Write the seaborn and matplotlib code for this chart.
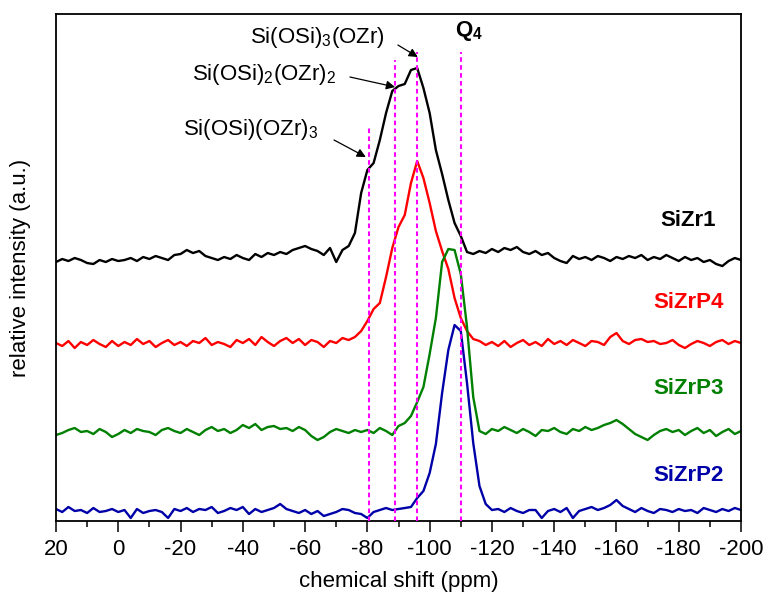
import matplotlib
matplotlib.use("Agg")
import matplotlib.pyplot as plt
from matplotlib.ticker import MultipleLocator, NullLocator
import seaborn as sns
import numpy as np
import pandas as pd

# chemical shift grid, 20 ... -200 ppm in 2 ppm steps
ppm = np.arange(20, -201, -2)

# intensities, relative to each trace's own baseline
sizr1 = [-4, -1, -3, 0, -2, -5, -6, -2, -4, -1,
         -3, -2, 0, -3, 1, -1, 2, 0, -2, 3,
         4, 8, 5, 7, 2, 0, -2, 1, -1, 3,
         0, -2, 4, 1, 5, 3, 6, 4, 8, 10,
         12, 9, 7, 3, 10, -4, 8, 12, 25, 65,
         88, 95, 118, 145, 167, 172, 174, 188, 190, 170,
         145, 108, 84, 58, 35, 22, 6, 4, 7, 5,
         9, 6, 10, 8, 11, 6, 4, 7, 3, 5,
         0, -3, -5, 2, -1, 1, -2, 2, 0, -3,
         1, -1, 2, 0, 3, -2, 1, -1, 3, 0,
         -3, 1, -2, 0, -4, -2, -6, -8, -3, 0, -2]
sizrp4 = [0, -3, 2, -5, 1, -2, 3, -1, -4, 2,
          -3, 1, -2, 4, -1, 2, -4, 0, 3, -2,
          1, -3, 2, 0, 5, -2, 1, -1, -4, 3,
          0, 4, -2, 6, 1, -3, 2, 5, 0, 4,
          -2, 3, 1, -4, 2, 0, 5, 3, 6, 12,
          22, 34, 40, 66, 95, 116, 128, 160, 182, 165,
          140, 112, 92, 74, 45, 25, 12, 4, 2, -2,
          1, -3, 2, -4, 0, 3, -2, 1, -3, 4,
          -1, 2, -2, 3, 0, -3, 2, 1, -2, 6,
          10, 2, -1, 3, 4, 1, 2, -1, 0, 3,
          -2, -5, -1, 2, 0, -3, 1, 3, -1, 2, 0]
sizrp3 = [-3, -1, 2, 4, 0, 1, -2, 3, 0, -5,
          -2, 2, -1, 3, 1, 0, -3, 2, 4, 1,
          -1, 3, 0, -3, 2, 5, 1, 3, -1, 2,
          7, 4, 8, 2, 5, 6, 3, 4, 1, 5,
          2, -4, -8, -5, 0, 3, 1, -1, 2, 0,
          2, -1, 4, 1, -3, 6, 9, 16, 30, 45,
          78, 114, 170, 183, 182, 158, 105, 35, 1, -2,
          3, 1, 5, 2, -1, 3, 0, -4, 2, 1,
          4, 0, -2, 3, 1, 5, 2, 4, 7, 9,
          12, 8, 3, -2, -5, -8, -3, 1, 3, 0,
          2, -3, 1, 4, -1, 2, -4, 0, 3, -2, 1]
sizrp2 = [2, -1, 4, 0, 1, -2, 3, -1, 0, 2,
          -1, 1, -7, 2, -2, 0, 1, -1, -7, 2,
          0, 3, -1, 2, 1, 4, -2, 0, 3, 1,
          4, -3, 2, -1, 1, 3, 7, 2, 0, -2,
          1, -3, 0, -5, -3, -1, 2, 1, -2, -3,
          -7, -1, 1, 3, 1, 2, 3, 4, 13, 20,
          38, 67, 118, 161, 186, 180, 128, 68, 25, 7,
          1, 2, -1, 3, 0, -2, 1, 1, -7, 0,
          2, -1, 3, -7, 0, 2, 4, 1, 3, 6,
          11, 5, 2, -1, 3, 0, -2, 2, 1, -1,
          2, 0, 1, -2, 3, 1, -1, 2, 0, 3, 1]

samples = ["SiZr1", "SiZrP4", "SiZrP3", "SiZrP2"]
offsets = [263, 178, 89, 10]
colors = ["#000000", "#ff0000", "#008000", "#0000a8"]

# Q-unit positions (ppm) and how high their dotted markers reach
q_pos = [-80.5, -89, -96, -110]
q_top = [394, 461, 469, 469]

plt.rcParams["font.family"] = "Liberation Sans"
plt.rcParams["axes.unicode_minus"] = False
plt.rcParams["mathtext.fontset"] = "custom"
plt.rcParams["mathtext.rm"] = "Liberation Sans"
plt.rcParams["mathtext.it"] = "Liberation Sans:italic"
plt.rcParams["mathtext.bf"] = "Liberation Sans:bold"


def main():
    df = pd.concat([
        pd.DataFrame({"ppm": ppm, "intensity": np.array(vals) + off, "sample": name})
        for name, vals, off in zip(samples, [sizr1, sizrp4, sizrp3, sizrp2], offsets)
    ])

    fig = plt.figure(figsize=(7.66, 6.04), dpi=100)
    ax = fig.add_axes([0.0731, 0.1374, 0.8943, 0.8394])

    sns.lineplot(data=df, x="ppm", y="intensity", hue="sample",
                 palette=dict(zip(samples, colors)), estimator=None,
                 sort=False, legend=False, linewidth=1.7, ax=ax)

    ax.vlines(q_pos, 0, q_top, colors="#ff00ff", linewidth=1.5,
              linestyles=(0, (2.2, 1.6)), zorder=3)

    # sample labels on the right
    for name, col, yl in zip(samples, colors, [301, 219, 133, 46]):
        ax.text(-183, yl, name, color=col, fontsize=16, fontweight="bold",
                ha="center", va="center")

    # peak assignments
    ax.text(-42.3, 478, r"Si(OSi)$_3$(OZr)", fontsize=16, ha="left", va="baseline")
    ax.text(-23.7, 441, r"Si(OSi)$_2$(OZr)$_2$", fontsize=16, ha="left", va="baseline")
    ax.text(-20.8, 386, r"Si(OSi)(OZr)$_3$", fontsize=16, ha="left", va="baseline")
    ax.text(-108.1, 485, r"$\mathbf{Q_4}$", fontsize=16, ha="left", va="baseline")

    arrow = dict(arrowstyle="-|>", color="black", lw=0.9, mutation_scale=13,
                 shrinkA=0, shrinkB=0)
    ax.annotate("", xy=(-96.2, 464), xytext=(-89.8, 476), arrowprops=arrow)
    ax.annotate("", xy=(-88.9, 434), xytext=(-74.4, 444), arrowprops=arrow)
    ax.annotate("", xy=(-79.5, 364), xytext=(-69.3, 381), arrowprops=arrow)

    ax.set_xlim(20, -200)
    ax.set_ylim(0, 507)
    ax.xaxis.set_major_locator(MultipleLocator(20))
    ax.xaxis.set_minor_locator(MultipleLocator(10))
    ax.yaxis.set_major_locator(NullLocator())
    ax.tick_params(axis="x", which="major", direction="out", length=8, width=1.1,
                   labelsize=16, pad=5)
    ax.tick_params(axis="x", which="minor", direction="out", length=4, width=1.1)
    for sp in ax.spines.values():
        sp.set_linewidth(1.3)

    ax.set_xlabel("chemical shift (ppm)", fontsize=16, labelpad=8)
    ax.set_ylabel("relative intensity (a.u.)", fontsize=16, labelpad=18)

    fig.savefig("out.png", dpi=100)


if __name__ == "__main__":
    main()
